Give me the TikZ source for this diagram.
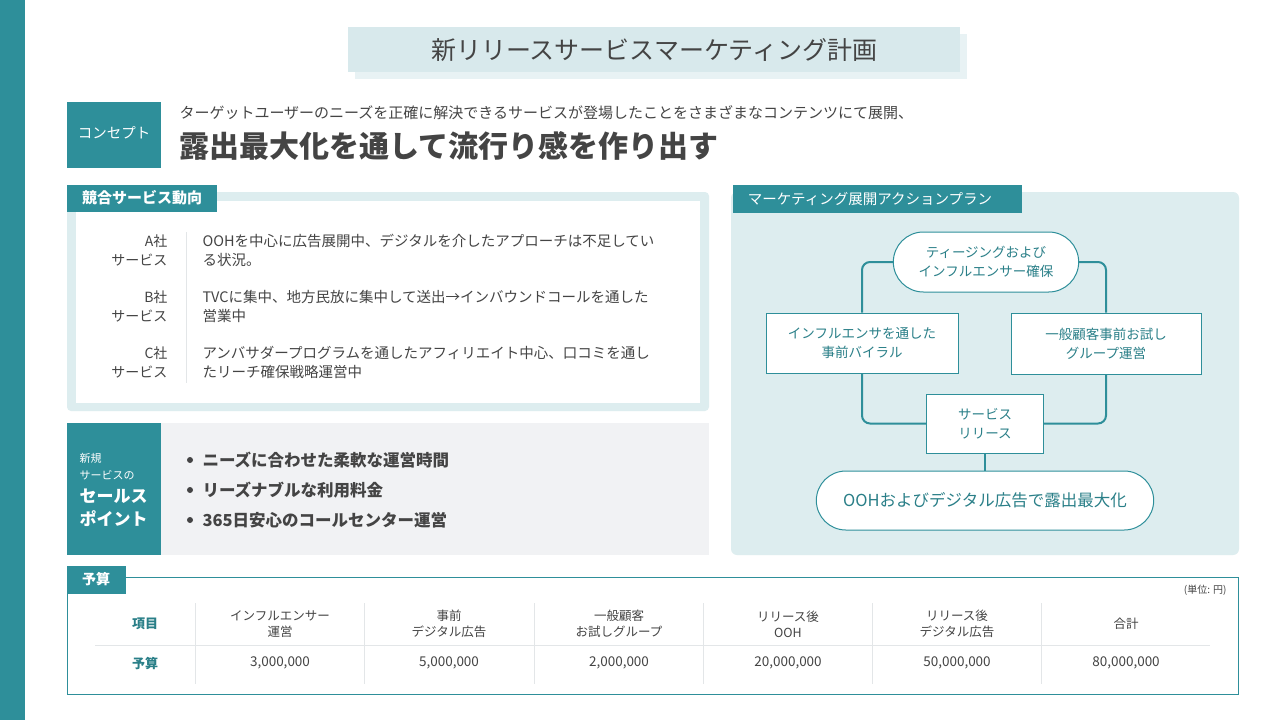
\documentclass[tikz,border=0pt]{standalone}
\usepackage{fontspec}
\setmainfont{Noto Sans CJK JP}
\usetikzlibrary{shapes.misc}
\definecolor{teal1}{HTML}{2E8F9A}
\definecolor{pane}{HTML}{DDEDEF}
\definecolor{ttl}{HTML}{D8E9EC}
\definecolor{txt}{HTML}{444444}
\definecolor{ftxt}{HTML}{2A7F88}
\definecolor{gry}{HTML}{F1F2F4}
\definecolor{sep}{HTML}{E3E6E8}
\tikzset{
 fs/.style={font=\fontsize{#1}{#1}\selectfont},
 fbox/.style={draw=teal1,line width=1pt,fill=white,text=ftxt,align=center,font=\fontsize{13.5}{19}\selectfont},
 pill/.style={fbox,rounded rectangle},
 conn/.style={draw=teal1,line width=2pt,rounded corners=8pt},
 lab/.style={anchor=east,text=txt,fs=14},
 row/.style={anchor=west,text=txt,fs=14.5},
 th/.style={text=txt,align=center,font=\fontsize{12.5}{16}\selectfont},
 td/.style={text=txt,fs=13.5},
}
\begin{document}
\begin{tikzpicture}[x=1pt,y=-1pt]
\useasboundingbox (0,0) rectangle (1280,720);
\fill[white] (0,0) rectangle (1280,720);
\fill[teal1] (0,0) rectangle (25,720);
% title
\fill[ttl!60] (355,34) rectangle (967,79);
\fill[ttl] (348,27) rectangle (960,72);
\node[text=txt,fs=25] (title) at (654,50) {新リリースサービスマーケティング計画};
% concept
\fill[teal1] (67,102) rectangle (161,168);
\node[text=white,fs=14.5] (cc) at (114,133) {コンセプト};
\node[anchor=west,text=txt,fs=15] (c1) at (176,113) {ターゲットユーザーのニーズを正確に解決できるサービスが登場したことをさまざまなコンテンツにて展開、};
\node[anchor=west,text=txt,font=\bfseries\fontsize{30}{30}\selectfont] (c2) at (176,146) {露出最大化を通して流行り感を作り出す};
% competition
\fill[pane,rounded corners=4pt] (67,192) rectangle (709,411);
\fill[white] (76,201) rectangle (700,403);
\fill[teal1] (67,185) rectangle (217,212);
\node[text=white,font=\bfseries\fontsize{15}{15}\selectfont] (t1) at (142,198) {競合サービス動向};
\draw[sep,line width=1pt] (186,232) -- (186,383);
\node[lab] (la1) at (171,241) {A社};\node[lab] (la2) at (171,260) {サービス};
\node[lab] (lb1) at (171,297) {B社};\node[lab] (lb2) at (171,316) {サービス};
\node[lab] (lc1) at (171,353) {C社};\node[lab] (lc2) at (171,372) {サービス};
\node[row] (ra1) at (199,241) {OOHを中心に広告展開中、デジタルを介したアプローチは不足してい};
\node[row] (ra2) at (199,260) {る状況。};
\node[row] (rb1) at (199,297) {TVCに集中、地方民放に集中して送出→インバウンドコールを通した};
\node[row] (rb2) at (199,316) {営業中};
\node[row] (rc1) at (199,353) {アンバサダープログラムを通したアフィリエイト中心、口コミを通し};
\node[row] (rc2) at (199,372) {たリーチ確保戦略運営中};
% sales points
\fill[gry] (161,423) rectangle (709,555);
\fill[teal1] (67,423) rectangle (161,555);
\node[anchor=west,text=white,fs=11] (s1) at (76,458) {新規};
\node[anchor=west,text=white,fs=11] (s2) at (76,475) {サービスの};
\node[anchor=west,text=white,font=\bfseries\fontsize{17}{17}\selectfont] (s3) at (76,496) {セールス};
\node[anchor=west,text=white,font=\bfseries\fontsize{17}{17}\selectfont] (s4) at (76,519) {ポイント};
\foreach \yy/\tt in {460/ニーズに合わせた柔軟な運営時間,490/リーズナブルな利用料金,520/365日安心のコールセンター運営}{
 \fill[txt] (190,\yy) circle (3);
 \node[anchor=west,text=txt,font=\bfseries\fontsize{16.5}{16.5}\selectfont] at (199,\yy) {\tt};
}
% action plan
\fill[pane,rounded corners=6pt] (731,192) rectangle (1239,555);
\fill[teal1] (733,185) rectangle (1022,213);
\node[text=white,fs=14.5] (t2) at (870,199) {マーケティング展開アクションプラン};
\node[pill,minimum width=192,minimum height=60] (p1) at (986,262) {ティージングおよび\\インフルエンサー確保};
\node[fbox,minimum width=192,minimum height=60] (b1) at (862,343) {インフルエンサを通した\\事前バイラル};
\node[fbox,minimum width=190,minimum height=61] (b2) at (1106,343.5) {一般顧客事前お試し\\グループ運営};
\node[fbox,minimum width=117,minimum height=59] (b3) at (985,423.5) {サービス\\リリース};
\node[pill,minimum width=344,minimum height=59,font=\fontsize{16.5}{16.5}\selectfont] (p2) at (985,500.5) {OOHおよびデジタル広告で露出最大化};
\draw[conn] (p1.west) -| (b1.north);
\draw[conn] (p1.east) -| (b2.north);
\draw[conn] (b1.south) |- (b3.west);
\draw[conn] (b2.south) |- (b3.east);
\draw[conn] (b3.south) -- (p2.north);
% budget
\draw[teal1,line width=1pt,fill=white] (67,577) rectangle (1238,694);
\fill[teal1] (67,566) rectangle (126,594);
\node[text=white,font=\bfseries\fontsize{14}{14}\selectfont] (t3) at (96,579) {予算};
\node[anchor=east,text=txt,fs=10] (unit) at (1230,590) {(単位: 円)};
\draw[sep,line width=1pt] (95,645) -- (1210,645);
\foreach \x in {195,364,534,703,872,1041} \draw[sep,line width=1pt] (\x,603) -- (\x,684);
\node[text=ftxt,font=\bfseries\fontsize{13}{13}\selectfont] (h0) at (145,624) {項目};
\node[th] (h1) at (280,624) {インフルエンサー\\運営};
\node[th] (h2) at (449,624) {事前\\デジタル広告};
\node[th] (h3) at (619,624) {一般顧客\\お試しグループ};
\node[th] (h4) at (788,624) {リリース後\\OOH};
\node[th] (h5) at (957,624) {リリース後\\デジタル広告};
\node[th] (h6) at (1126,624) {合計};
\node[text=ftxt,font=\bfseries\fontsize{13}{13}\selectfont] (d0) at (145,663) {予算};
\node[td] (d1) at (280,663) {3,000,000};
\node[td] (d2) at (449,663) {5,000,000};
\node[td] (d3) at (619,663) {2,000,000};
\node[td] (d4) at (788,663) {20,000,000};
\node[td] (d5) at (957,663) {50,000,000};
\node[td] (d6) at (1126,663) {80,000,000};
\end{tikzpicture}
\end{document}
